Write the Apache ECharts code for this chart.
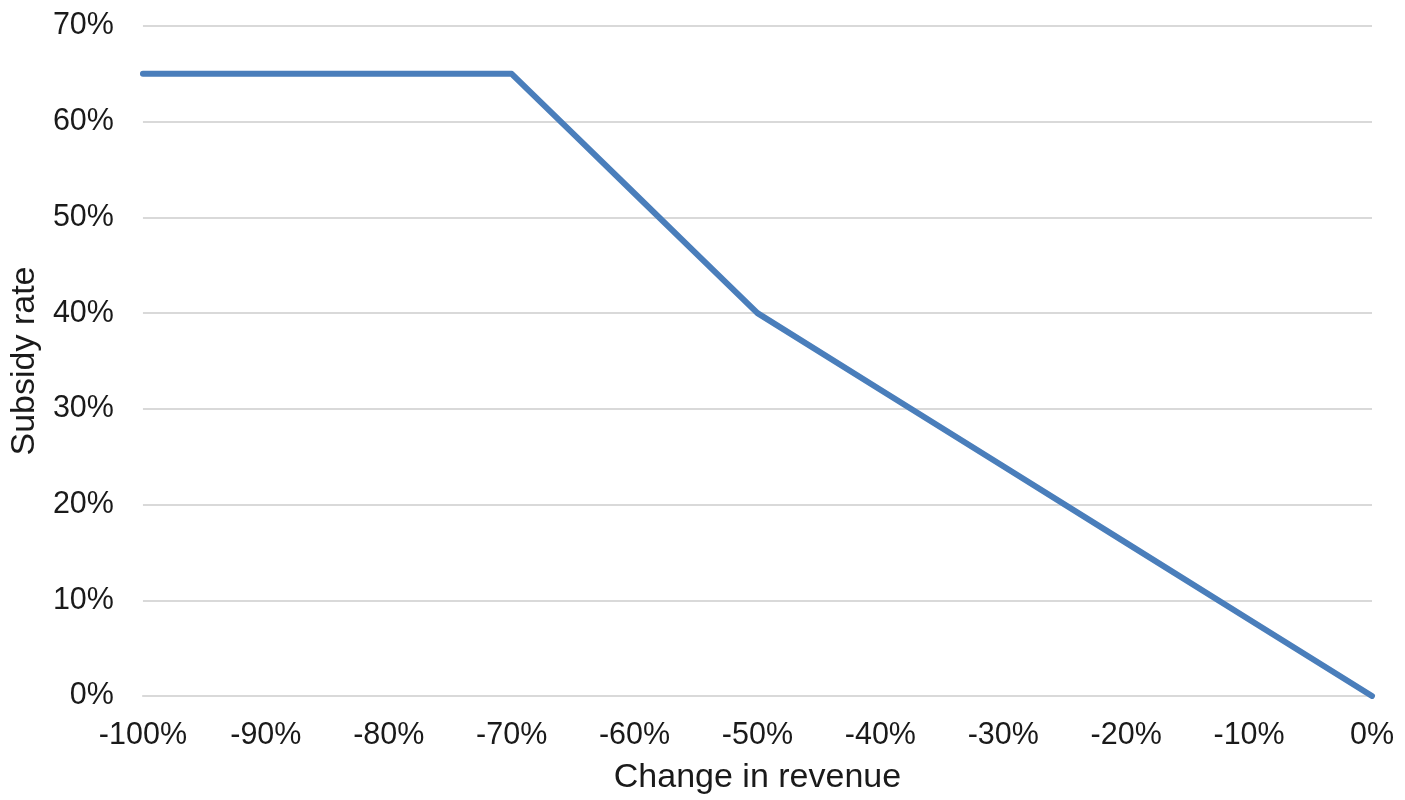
<!DOCTYPE html>
<html>
<head>
<meta charset="utf-8">
<script src="https://cdn.jsdelivr.net/npm/echarts@6/dist/echarts.min.js"></script>
<style>
  html, body { margin: 0; padding: 0; background: #fff; }
  #chart { width: 1405px; height: 800px; }
</style>
</head>
<body>
<div id="chart"></div>
<script>
// Revenue change (%) and the subsidy rate (%) that applies at it
const revenueChange = [-100, -90, -80, -70, -65, -60, -55, -50, -40, -30, -20, -10, 0];
const subsidyRate   = [65, 65, 65, 65, 58.75, 52.5, 46.25, 40, 32, 24, 16, 8, 0];
const xTitle = 'Change in revenue';
const yTitle = 'Subsidy rate';

const font = 'Liberation Sans, Arial, sans-serif';
const textColor = '#1a1a1a';

const chart = echarts.init(document.getElementById('chart'), null, { renderer: 'canvas' });
chart.setOption({
  animation: false,
  backgroundColor: '#ffffff',
  grid: { left: 142, right: 33, top: 26, bottom: 101, containLabel: false },
  xAxis: {
    type: 'value',
    min: -100, max: 0, interval: 10,
    name: xTitle,
    nameLocation: 'middle',
    nameGap: 65,
    nameTextStyle: { fontFamily: font, fontSize: 34, color: textColor },
    axisLine: { show: true, lineStyle: { color: '#d9d9d9', width: 2 } },
    axisTick: { show: false },
    splitLine: { show: false },
    axisLabel: {
      fontFamily: font, fontSize: 30.5, color: textColor, margin: 24,
      formatter: v => v + '%'
    }
  },
  yAxis: {
    type: 'value',
    min: 0, max: 70, interval: 10,
    name: yTitle,
    nameLocation: 'middle',
    nameGap: 100,
    nameRotate: 90,
    nameTextStyle: { fontFamily: font, fontSize: 34, color: textColor },
    axisLine: { show: false },
    axisTick: { show: false },
    splitLine: { show: true, lineStyle: { color: '#d9d9d9', width: 2 } },
    axisLabel: {
      fontFamily: font, fontSize: 30.5, color: textColor, margin: 29,
      formatter: v => v + '%'
    }
  },
  series: [{
    type: 'line',
    data: revenueChange.map((x, i) => [x, subsidyRate[i]]),
    showSymbol: false,
    symbol: 'none',
    lineStyle: { color: '#4a7ebb', width: 6, cap: 'round', join: 'round' },
    itemStyle: { color: '#4a7ebb' }
  }]
});
</script>
</body>
</html>
